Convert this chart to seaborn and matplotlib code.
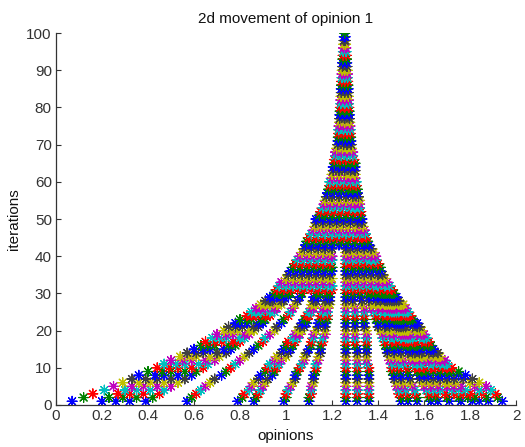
import matplotlib
matplotlib.use("Agg")
import matplotlib.pyplot as plt
import seaborn as sns
import pandas as pd

title = "2d movement of opinion 1"
x_label = "opinions"
y_label = "iterations"
x_tick_labels = ["0", "0.2", "0.4", "0.6", "0.8", "1", "1.2", "1.4", "1.6", "1.8", "2"]
y_tick_labels = ["0", "10", "20", "30", "40", "50", "60", "70", "80", "90", "100"]
# MATLAB default colour order, one colour per iteration (b g r c m y k)
color_cycle = ["#0000ff", "#008000", "#ff0000", "#00bfbf", "#bf00bf", "#bfbf00", "#404040"]

# opinion of each agent at iterations 1..30
early_paths = {
    "a01": [0.07, 0.12, 0.16, 0.21, 0.25, 0.29, 0.33, 0.36, 0.40, 0.44, 0.47, 0.50, 0.54, 0.57, 0.60,
            0.63, 0.65, 0.68, 0.70, 0.73, 0.75, 0.78, 0.80, 0.83, 0.85, 0.87, 0.89, 0.91, 0.93, 0.95],
    "a02": [0.20, 0.23, 0.27, 0.30, 0.33, 0.36, 0.39, 0.43, 0.46, 0.49, 0.52, 0.55, 0.58, 0.61, 0.64,
            0.66, 0.69, 0.71, 0.74, 0.76, 0.78, 0.80, 0.83, 0.85, 0.87, 0.89, 0.91, 0.93, 0.95, 0.97],
    "a03": [0.26, 0.29, 0.32, 0.35, 0.38, 0.41, 0.44, 0.47, 0.50, 0.53, 0.56, 0.59, 0.61, 0.64, 0.67,
            0.69, 0.72, 0.74, 0.77, 0.79, 0.81, 0.83, 0.85, 0.87, 0.89, 0.91, 0.93, 0.94, 0.96, 0.98],
    "a05": [0.32, 0.35, 0.38, 0.41, 0.44, 0.47, 0.50, 0.53, 0.56, 0.59, 0.62, 0.65, 0.67, 0.70, 0.73,
            0.75, 0.77, 0.80, 0.82, 0.84, 0.86, 0.88, 0.89, 0.91, 0.93, 0.95, 0.96, 0.98, 0.99, 1.01],
    "a07": [0.39, 0.42, 0.45, 0.47, 0.50, 0.53, 0.56, 0.59, 0.61, 0.64, 0.66, 0.69, 0.71, 0.74, 0.76,
            0.78, 0.80, 0.82, 0.84, 0.86, 0.88, 0.90, 0.91, 0.93, 0.95, 0.96, 0.98, 0.99, 1.01, 1.02],
    "a08": [0.57, 0.59, 0.61, 0.63, 0.65, 0.67, 0.69, 0.72, 0.74, 0.76, 0.78, 0.80, 0.82, 0.84, 0.86,
            0.88, 0.90, 0.91, 0.93, 0.95, 0.96, 0.98, 0.99, 1.01, 1.02, 1.03, 1.04, 1.05, 1.06, 1.07],
    "a09": [0.79, 0.81, 0.82, 0.84, 0.85, 0.86, 0.88, 0.89, 0.91, 0.92, 0.93, 0.95, 0.96, 0.98, 0.99,
            1.00, 1.01, 1.03, 1.04, 1.05, 1.06, 1.07, 1.08, 1.09, 1.10, 1.11, 1.11, 1.12, 1.12, 1.13],
    "a10": [0.86, 0.87, 0.88, 0.89, 0.90, 0.91, 0.92, 0.94, 0.95, 0.96, 0.97, 0.98, 1.00, 1.01, 1.02,
            1.03, 1.04, 1.05, 1.06, 1.07, 1.08, 1.09, 1.09, 1.10, 1.11, 1.12, 1.13, 1.13, 1.14, 1.15],
    "a11": [0.99, 1.00, 1.00, 1.01, 1.02, 1.03, 1.04, 1.04, 1.05, 1.06, 1.07, 1.08, 1.08, 1.09, 1.10,
            1.11, 1.11, 1.12, 1.12, 1.13, 1.14, 1.14, 1.15, 1.15, 1.16, 1.16, 1.17, 1.17, 1.18, 1.18],
    "a12": [1.10, 1.10, 1.11, 1.11, 1.11, 1.12, 1.12, 1.12, 1.13, 1.13, 1.13, 1.14, 1.14, 1.15, 1.15,
            1.15, 1.16, 1.16, 1.17, 1.17, 1.17, 1.17, 1.18, 1.18, 1.18, 1.18, 1.19, 1.19, 1.19, 1.19],
    "a13": [1.26, 1.26, 1.26, 1.26, 1.26, 1.26, 1.26, 1.26, 1.26, 1.26, 1.26, 1.26, 1.26, 1.26, 1.26,
            1.26, 1.26, 1.26, 1.26, 1.26, 1.26, 1.26, 1.26, 1.26, 1.26, 1.26, 1.26, 1.26, 1.26, 1.26],
    "a14": [1.31, 1.31, 1.31, 1.31, 1.31, 1.31, 1.31, 1.31, 1.31, 1.31, 1.31, 1.31, 1.31, 1.31, 1.31,
            1.30, 1.30, 1.30, 1.30, 1.30, 1.30, 1.30, 1.30, 1.30, 1.30, 1.30, 1.29, 1.29, 1.29, 1.29],
    "a15": [1.36, 1.36, 1.36, 1.36, 1.36, 1.36, 1.36, 1.36, 1.36, 1.36, 1.35, 1.35, 1.35, 1.35, 1.35,
            1.35, 1.35, 1.35, 1.35, 1.35, 1.34, 1.34, 1.34, 1.34, 1.34, 1.34, 1.33, 1.33, 1.32, 1.32],
    "a16": [1.50, 1.50, 1.49, 1.49, 1.48, 1.48, 1.47, 1.47, 1.46, 1.46, 1.46, 1.45, 1.45, 1.44, 1.44,
            1.43, 1.43, 1.42, 1.42, 1.41, 1.40, 1.40, 1.39, 1.39, 1.38, 1.37, 1.37, 1.36, 1.36, 1.35],
    "a17": [1.53, 1.53, 1.52, 1.52, 1.51, 1.51, 1.50, 1.50, 1.49, 1.49, 1.49, 1.48, 1.48, 1.47, 1.47,
            1.46, 1.46, 1.45, 1.45, 1.44, 1.43, 1.43, 1.42, 1.42, 1.41, 1.40, 1.39, 1.39, 1.38, 1.37],
    "a18": [1.57, 1.57, 1.56, 1.56, 1.55, 1.54, 1.54, 1.53, 1.53, 1.52, 1.51, 1.51, 1.50, 1.50, 1.49,
            1.48, 1.48, 1.47, 1.47, 1.46, 1.45, 1.45, 1.44, 1.44, 1.43, 1.42, 1.41, 1.41, 1.40, 1.39],
    "a19": [1.63, 1.62, 1.62, 1.61, 1.60, 1.59, 1.58, 1.58, 1.57, 1.56, 1.55, 1.54, 1.54, 1.53, 1.52,
            1.51, 1.51, 1.50, 1.50, 1.49, 1.48, 1.47, 1.47, 1.46, 1.45, 1.44, 1.43, 1.43, 1.42, 1.41],
    "a20": [1.66, 1.65, 1.65, 1.64, 1.63, 1.62, 1.61, 1.60, 1.59, 1.58, 1.57, 1.56, 1.56, 1.55, 1.54,
            1.53, 1.52, 1.52, 1.51, 1.50, 1.49, 1.48, 1.48, 1.47, 1.46, 1.45, 1.44, 1.44, 1.43, 1.42],
    "a21": [1.71, 1.70, 1.69, 1.67, 1.66, 1.65, 1.64, 1.62, 1.61, 1.60, 1.59, 1.58, 1.57, 1.56, 1.55,
            1.54, 1.53, 1.53, 1.52, 1.51, 1.50, 1.49, 1.49, 1.48, 1.47, 1.46, 1.45, 1.44, 1.43, 1.42],
    "a22": [1.76, 1.75, 1.73, 1.72, 1.70, 1.69, 1.67, 1.66, 1.64, 1.63, 1.62, 1.61, 1.59, 1.58, 1.57,
            1.56, 1.55, 1.54, 1.53, 1.52, 1.51, 1.50, 1.50, 1.49, 1.48, 1.47, 1.46, 1.45, 1.44, 1.43],
    "a23": [1.81, 1.79, 1.77, 1.75, 1.73, 1.71, 1.70, 1.68, 1.67, 1.65, 1.64, 1.62, 1.61, 1.59, 1.58,
            1.57, 1.56, 1.55, 1.54, 1.53, 1.52, 1.51, 1.51, 1.50, 1.49, 1.48, 1.47, 1.46, 1.45, 1.44],
    "a24": [1.84, 1.82, 1.80, 1.78, 1.76, 1.74, 1.73, 1.71, 1.70, 1.68, 1.67, 1.65, 1.64, 1.62, 1.61,
            1.60, 1.59, 1.58, 1.57, 1.56, 1.55, 1.54, 1.53, 1.52, 1.51, 1.50, 1.49, 1.47, 1.46, 1.45],
    "a25": [1.88, 1.87, 1.85, 1.84, 1.82, 1.80, 1.77, 1.75, 1.72, 1.70, 1.69, 1.67, 1.66, 1.64, 1.63,
            1.62, 1.61, 1.60, 1.59, 1.58, 1.57, 1.56, 1.54, 1.53, 1.52, 1.51, 1.50, 1.48, 1.47, 1.46],
    "a26": [1.94, 1.92, 1.91, 1.89, 1.87, 1.84, 1.81, 1.78, 1.75, 1.72, 1.70, 1.69, 1.67, 1.66, 1.64,
            1.63, 1.62, 1.61, 1.60, 1.59, 1.58, 1.57, 1.55, 1.54, 1.53, 1.52, 1.51, 1.49, 1.48, 1.47],
}

# opinions present at iterations 31..100 (one list per iteration)
late_rows = [
    [0.96, 0.99, 1.02, 1.05, 1.08, 1.11, 1.14, 1.17, 1.20, 1.26, 1.29, 1.32, 1.35, 1.38, 1.41, 1.44, 1.46],
    [0.97, 1.00, 1.03, 1.06, 1.09, 1.12, 1.15, 1.18, 1.20, 1.26, 1.29, 1.32, 1.35, 1.38, 1.40, 1.43, 1.45],
    [0.98, 1.01, 1.04, 1.07, 1.10, 1.13, 1.16, 1.19, 1.26, 1.28, 1.31, 1.34, 1.37, 1.40, 1.42, 1.44],
    [1.00, 1.03, 1.06, 1.09, 1.12, 1.15, 1.18, 1.20, 1.26, 1.29, 1.32, 1.35, 1.38, 1.41, 1.43],
    [1.01, 1.04, 1.07, 1.10, 1.13, 1.16, 1.19, 1.26, 1.28, 1.31, 1.34, 1.37, 1.40, 1.42],
    [1.02, 1.05, 1.08, 1.11, 1.14, 1.17, 1.20, 1.26, 1.29, 1.32, 1.35, 1.38, 1.41],
    [1.03, 1.06, 1.09, 1.12, 1.15, 1.18, 1.20, 1.26, 1.29, 1.32, 1.35, 1.38, 1.41],
    [1.04, 1.07, 1.10, 1.13, 1.16, 1.19, 1.26, 1.28, 1.31, 1.34, 1.37, 1.40],
    [1.05, 1.08, 1.11, 1.14, 1.17, 1.20, 1.26, 1.29, 1.32, 1.35, 1.37, 1.39],
    [1.06, 1.09, 1.12, 1.15, 1.18, 1.20, 1.26, 1.28, 1.31, 1.34, 1.37, 1.39],
    [1.07, 1.10, 1.13, 1.16, 1.19, 1.26, 1.29, 1.32, 1.35, 1.38],
    [1.08, 1.11, 1.14, 1.17, 1.20, 1.26, 1.28, 1.31, 1.34, 1.37],
    [1.085, 1.11, 1.14, 1.17, 1.20, 1.23, 1.26, 1.29, 1.32, 1.34, 1.36],
    [1.09, 1.12, 1.15, 1.18, 1.21, 1.24, 1.27, 1.30, 1.33, 1.355],
    [1.10, 1.13, 1.16, 1.19, 1.22, 1.25, 1.28, 1.31, 1.33, 1.35],
    [1.11, 1.14, 1.17, 1.20, 1.23, 1.26, 1.29, 1.32, 1.345],
    [1.12, 1.15, 1.18, 1.21, 1.24, 1.27, 1.30, 1.32, 1.34],
    [1.125, 1.15, 1.18, 1.21, 1.24, 1.27, 1.30, 1.335],
    [1.13, 1.16, 1.19, 1.22, 1.25, 1.28, 1.31, 1.33],
    [1.13, 1.16, 1.19, 1.22, 1.25, 1.28, 1.31, 1.33],
    [1.145, 1.17, 1.20, 1.23, 1.26, 1.29, 1.325],
    [1.15, 1.18, 1.21, 1.24, 1.27, 1.30, 1.325],
    [1.16, 1.19, 1.22, 1.25, 1.28, 1.30, 1.32],
    [1.165, 1.19, 1.22, 1.25, 1.28, 1.30, 1.32],
    [1.17, 1.20, 1.23, 1.26, 1.29, 1.32],
    [1.175, 1.20, 1.23, 1.26, 1.29, 1.315],
    [1.18, 1.21, 1.24, 1.27, 1.29, 1.31],
    [1.185, 1.21, 1.24, 1.27, 1.29, 1.31],
    [1.19, 1.22, 1.25, 1.28, 1.305],
    [1.19, 1.22, 1.25, 1.28, 1.305],
    [1.20, 1.23, 1.26, 1.28, 1.30],
    [1.20, 1.23, 1.26, 1.28, 1.30],
    [1.205, 1.23, 1.255, 1.28, 1.30],
    [1.205, 1.23, 1.255, 1.28, 1.30],
    [1.21, 1.235, 1.26, 1.28, 1.30],
    [1.21, 1.235, 1.26, 1.295],
    [1.215, 1.24, 1.265, 1.29],
    [1.215, 1.24, 1.265, 1.29],
    [1.22, 1.245, 1.265, 1.285],
    [1.225, 1.25, 1.265, 1.283],
    [1.226, 1.25, 1.265, 1.282],
    [1.227, 1.25, 1.265, 1.281],
    [1.228, 1.25, 1.265, 1.28],
    [1.229, 1.25, 1.265, 1.279],
    [1.23, 1.25, 1.265, 1.278],
    [1.232, 1.255, 1.277],
    [1.233, 1.255, 1.276],
    [1.234, 1.255, 1.275],
    [1.235, 1.255, 1.274],
    [1.236, 1.255, 1.273],
    [1.238, 1.255, 1.272],
    [1.238, 1.255, 1.271],
    [1.239, 1.255, 1.271],
    [1.24, 1.255, 1.27],
    [1.24, 1.255, 1.27],
    [1.241, 1.255, 1.269],
    [1.242, 1.255, 1.268],
    [1.243, 1.255, 1.267],
    [1.243, 1.255, 1.267],
    [1.244, 1.255, 1.266],
    [1.245, 1.265],
    [1.246, 1.264],
    [1.247, 1.263],
    [1.248, 1.262],
    [1.249, 1.261],
    [1.25, 1.26],
    [1.251, 1.259],
    [1.252, 1.258],
    [1.253, 1.257],
    [1.255],
]

# ---- assemble long table ----
records = []
n_early = len(next(iter(early_paths.values())))
for i in range(n_early):
    it = i + 1
    for name, path in early_paths.items():
        records.append({"iteration": it, "opinion": path[i]})
for j, row in enumerate(late_rows):
    it = n_early + 1 + j
    for v in row:
        records.append({"iteration": it, "opinion": v})
df = pd.DataFrame(records).sort_values("iteration", kind="stable").reset_index(drop=True)
df["cidx"] = ((df["iteration"] - 1) % len(color_cycle)).astype(str)
palette = {str(k): c for k, c in enumerate(color_cycle)}

sns.set_style("white")
plt.rcParams["font.family"] = ["Liberation Sans", "DejaVu Sans"]

fig = plt.figure(figsize=(5.25, 4.47), dpi=100)
ax = fig.add_axes([0.1067, 0.094, 0.8763, 0.832])

sns.scatterplot(data=df, x="opinion", y="iteration", hue="cidx", palette=palette,
                marker=(8, 2, 0), s=50, linewidths=0.85, legend=False, ax=ax)

ax.set_xlim(float(x_tick_labels[0]), float(x_tick_labels[-1]))
ax.set_ylim(float(y_tick_labels[0]), float(y_tick_labels[-1]))
ax.set_xticks([float(t) for t in x_tick_labels])
ax.set_xticklabels(x_tick_labels)
ax.set_yticks([float(t) for t in y_tick_labels])
ax.set_yticklabels(y_tick_labels)

axis_col = "#333333"
for side in ["top", "right"]:
    ax.spines[side].set_visible(False)
for side in ["left", "bottom"]:
    ax.spines[side].set_color(axis_col)
    ax.spines[side].set_linewidth(0.9)
ax.tick_params(axis="both", direction="in", length=3.5, width=0.8, colors=axis_col,
               labelsize=11, pad=3, left=True, bottom=True)
ax.set_title(title, fontsize=11, color="#111111", pad=7)
ax.set_xlabel(x_label, fontsize=11, color="#111111", labelpad=4)
ax.set_ylabel(y_label, fontsize=11, color="#111111", labelpad=4)
ax.set_facecolor("white")
fig.patch.set_facecolor("white")

fig.savefig("out.png", dpi=100, facecolor="white")
